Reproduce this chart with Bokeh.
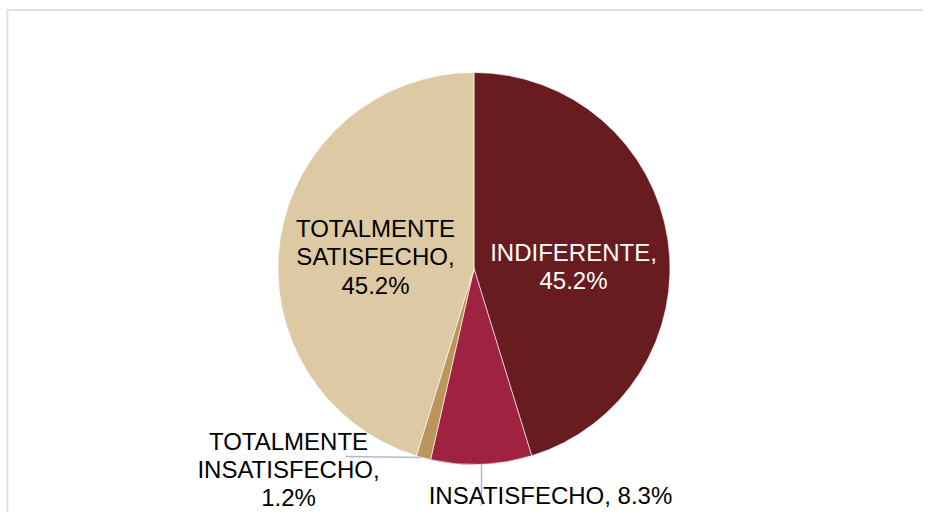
import math
from bokeh.plotting import figure
from bokeh.models import Range1d, ColumnDataSource
from bokeh.core.properties import value
from bokeh.embed import file_html
from bokeh.resources import INLINE

# ---- data ----
categories = ["INDIFERENTE", "INSATISFECHO", "TOTALMENTE INSATISFECHO", "TOTALMENTE SATISFECHO"]
percentages = [45.2, 8.3, 1.2, 45.2]
colors = ["#691C20", "#9F2241", "#BC955C", "#DDC9A3"]
label_text = ["INDIFERENTE,\n45.2%", "INSATISFECHO, 8.3%",
              "TOTALMENTE\nINSATISFECHO,\n1.2%", "TOTALMENTE\nSATISFECHO,\n45.2%"]
label_colors = ["#FFFFFF", "#000000", "#000000", "#000000"]

# ---- layout (picture pixel coordinates) ----
W, H = 923, 512
cx, cy, r = 473.5, 268.0, 196.0
label_x = [573, 550, 288, 375]
label_y = [266, 495, 469, 256.5]

total = sum(percentages)
starts, ends = [], []
cum = 0.0
for v in percentages:
    starts.append(math.pi / 2 - 2 * math.pi * cum / total)
    cum += v
    ends.append(math.pi / 2 - 2 * math.pi * cum / total)

src = ColumnDataSource(dict(cat=categories, val=percentages, color=colors,
                            start=starts, end=ends))

p = figure(width=W, height=H, output_backend="svg", toolbar_location=None,
           x_range=Range1d(0, W), y_range=Range1d(H, 0),
           min_border=0)
p.axis.visible = False
p.grid.visible = False
p.outline_line_color = None
p.background_fill_color = "white"
p.border_fill_color = "white"

# frame border (top & left visible; rest clipped in reference)
p.segment(x0=[6, 7], y0=[9.5, 9], x1=[W, 7], y1=[9.5, H],
          line_color="#DCE1E8", line_width=2)

p.wedge(x=cx, y=cy, radius=r, start_angle="start", end_angle="end",
        direction="clock", fill_color="color", line_color="white",
        line_width=0.6, source=src)

# leader lines
p.segment(x0=[345, 481], y0=[456, 463], x1=[421, 481], y1=[457, 505],
          line_color="#AEB9CC", line_width=1.5)

lsrc = ColumnDataSource(dict(x=label_x, y=label_y, t=label_text, c=label_colors))
p.text(x="x", y="y", text="t", text_color="c", source=lsrc,
       text_align="center", text_baseline="middle",
       text_font=value("Liberation Sans"), text_font_size="24px",
       text_line_height=1.05)

open("out.html", "w").write(file_html(p, INLINE))
